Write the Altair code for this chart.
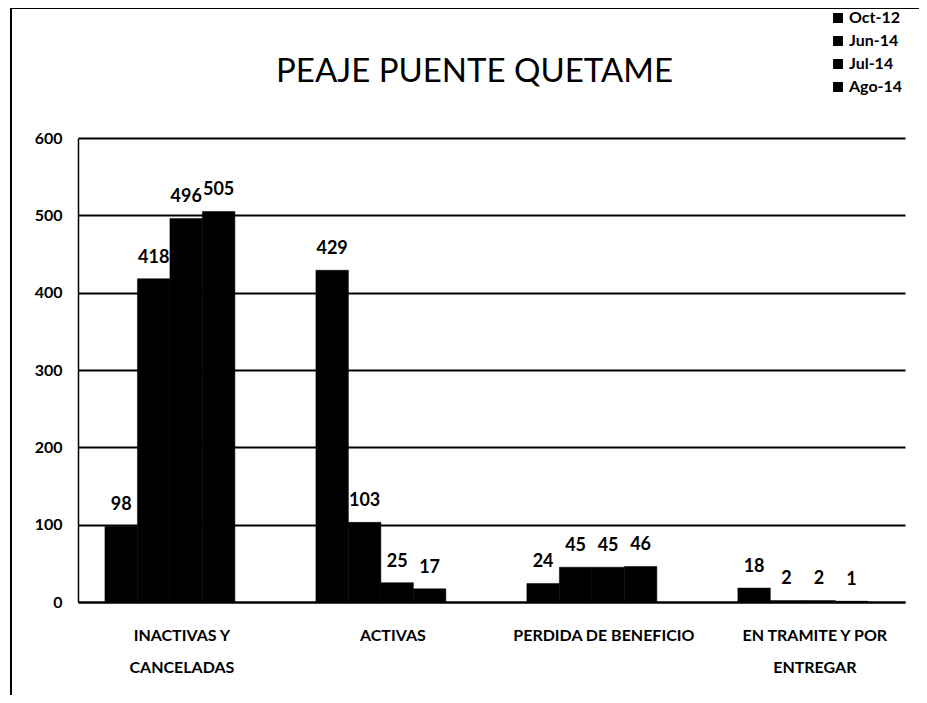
import altair as alt
import pandas as pd

categories = ["INACTIVAS Y CANCELADAS", "ACTIVAS", "PERDIDA DE BENEFICIO", "EN TRAMITE Y POR ENTREGAR"]
series = ["Oct-12", "Jun-14", "Jul-14", "Ago-14"]
oct12 = [98, 429, 24, 18]
jun14 = [418, 103, 45, 2]
jul14 = [496, 25, 45, 2]
ago14 = [505, 17, 46, 1]
y_ticks = [0, 100, 200, 300, 400, 500, 600]

rows = []
for s, vals in zip(series, [oct12, jun14, jul14, ago14]):
    for c, v in zip(categories, vals):
        rows.append({"cat": c, "serie": s, "valor": v})
df = pd.DataFrame(rows)

FONT = "Lato, Open Sans, sans-serif"
W, H = 827, 464

x_enc = alt.X("cat:N", sort=categories, title=None,
              scale=alt.Scale(paddingInner=0.384, paddingOuter=0.152, align=0.42),
              axis=alt.Axis(labelAngle=0, ticks=False, domainColor="black", domainWidth=2,
                            labelFont=FONT, labelFontSize=16, labelFontWeight="bold", labelColor="black",
                            labelPadding=25, labelLineHeight=32, labelOffset=12, labelLimit=0,
                            labelExpr="datum.label == 'INACTIVAS Y CANCELADAS' ? ['INACTIVAS Y', 'CANCELADAS'] : datum.label == 'EN TRAMITE Y POR ENTREGAR' ? ['EN TRAMITE Y POR', 'ENTREGAR'] : datum.label"))
y_enc = alt.Y("valor:Q", title=None,
              scale=alt.Scale(domain=[0, 600], nice=False),
              axis=alt.Axis(values=y_ticks, ticks=False, grid=True, gridColor="black", gridWidth=2,
                            gridOpacity=1, domainColor="black", domainWidth=1.5,
                            labelFont=FONT, labelFontSize=16, labelFontWeight="bold",
                            labelColor="black", labelPadding=16))

base = alt.Chart(df)
bars = base.mark_bar(color="black", stroke="black", strokeWidth=0.5).encode(
    x=x_enc,
    xOffset=alt.XOffset("serie:N", sort=series),
    y=y_enc,
    color=alt.Color("serie:N", sort=series, title=None,
                    scale=alt.Scale(domain=series, range=["black"] * 4),
                    legend=alt.Legend(orient="none", legendX=752, legendY=-128,
                                      symbolType="square", symbolSize=70, symbolFillColor="black",
                                      symbolStrokeColor="black",
                                      labelFont=FONT, labelFontSize=16, labelFontWeight="bold",
                                      labelColor="black", labelOffset=3, rowPadding=7)),
)
labels = base.mark_text(font=FONT, fontSize=18, fontWeight="bold", color="black",
                        baseline="alphabetic", dy=-16).encode(
    x=alt.X("cat:N", sort=categories),
    xOffset=alt.XOffset("serie:N", sort=series),
    y="valor:Q",
    text="valor:Q",
)
border = alt.Chart(pd.DataFrame({"k": [0]})).mark_rect(fill=None, stroke="black", strokeWidth=2).encode(
    x=alt.value(-67), x2=alt.value(880), y=alt.value(-130), y2=alt.value(600)
)

chart = alt.layer(border, bars, labels).properties(
    width=W, height=H,
    autosize=alt.AutoSizeParams(type="none"),
    padding={"left": 70, "top": 130, "right": 14, "bottom": 93},
    title=alt.TitleParams("PEAJE PUENTE QUETAME", font=FONT, fontSize=33, fontWeight="normal",
                          color="black", anchor="middle", frame="group", dx=-17, offset=-108,
                          baseline="alphabetic"),
).configure_view(stroke=None)

chart.save("out.html", embed_options={"renderer": "svg", "actions": False})
